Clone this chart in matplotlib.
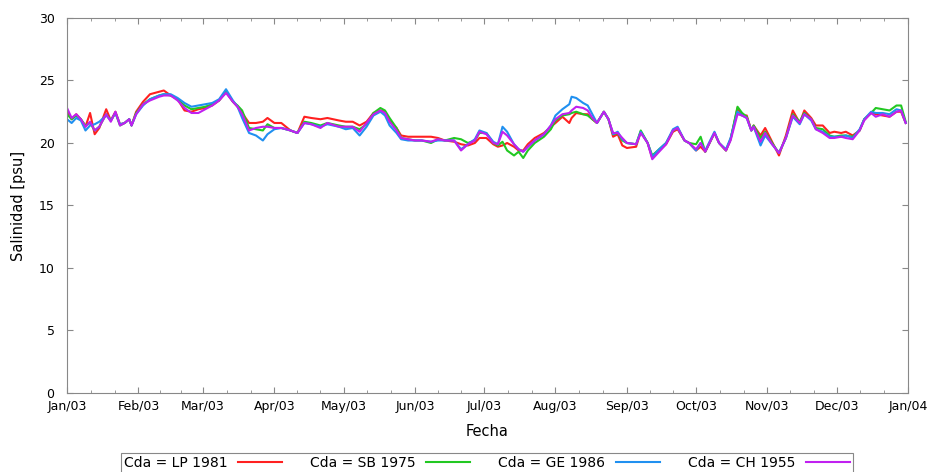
import numpy as np
import pandas as pd
import matplotlib
matplotlib.use("Agg")
import matplotlib.pyplot as plt
import matplotlib.dates as mdates


days = [
    0, 2, 4, 6, 8, 10, 12, 14, 17, 19, 21, 23, 25, 27, 28, 30, 33, 36, 40, 42,
    45, 48, 51, 54, 57, 60, 63, 66, 69, 72, 74, 76, 79, 82, 85, 87, 90, 93, 97, 100,
    103, 106, 110, 113, 118, 121, 124, 127, 130, 133, 136, 138, 140, 143, 145, 148, 151, 154, 158, 161,
    164, 168, 171, 174, 177, 179, 182, 185, 187, 189, 191, 194, 196, 198, 200, 203, 207, 210, 212, 215,
    218, 219, 221, 224, 226, 228, 230, 233, 235, 237, 239, 241, 243, 247, 249, 252, 254, 257, 260, 263,
    265, 268, 270, 273, 275, 277, 281, 283, 286, 288, 291, 293, 295, 297, 298, 301, 303, 306, 309, 312,
    315, 318, 320, 323, 325, 328, 331, 333, 336, 338, 341, 344, 346, 349, 351, 354, 357, 360, 362, 364,
]

sal_lp_1981 = [
    22.6, 21.9, 22.3, 21.9, 21.3, 22.4, 20.7, 21.2, 22.7, 21.8, 22.5, 21.5, 21.6, 21.9, 21.4, 22.5, 23.3, 23.9, 24.1, 24.2,
    23.8, 23.5, 22.6, 22.5, 22.7, 22.8, 23.0, 23.4, 24.1, 23.3, 22.9, 22.4, 21.6, 21.6, 21.7, 22.0, 21.6, 21.6, 21.0, 20.8,
    22.1, 22.0, 21.9, 22.0, 21.8, 21.7, 21.7, 21.4, 21.7, 22.4, 22.6, 22.5, 21.8, 21.2, 20.6, 20.5, 20.5, 20.5, 20.5, 20.4,
    20.2, 20.1, 19.9, 19.8, 20.0, 20.4, 20.4, 19.9, 19.7, 19.8, 20.0, 19.7, 19.4, 19.4, 19.9, 20.4, 20.8, 21.3, 21.6, 22.1,
    21.6, 22.0, 22.4, 22.3, 22.3, 21.9, 21.6, 22.5, 21.9, 20.5, 20.7, 19.8, 19.6, 19.7, 20.9, 20.0, 18.8, 19.4, 19.9, 20.9,
    21.1, 20.2, 20.0, 19.4, 19.7, 19.3, 20.8, 20.0, 19.4, 20.3, 22.8, 22.2, 22.2, 21.0, 21.4, 20.6, 21.2, 20.1, 19.0, 20.6,
    22.6, 21.6, 22.6, 22.0, 21.4, 21.4, 20.8, 20.9, 20.8, 20.9, 20.6, 21.0, 21.9, 22.4, 22.3, 22.2, 22.1, 22.5, 22.5, 21.6,
]

sal_sb_1975 = [
    22.3, 21.9, 22.2, 21.9, 21.4, 21.6, 21.0, 21.3, 22.3, 21.8, 22.4, 21.4, 21.6, 21.9, 21.4, 22.4, 23.1, 23.5, 23.8, 23.9,
    23.8, 23.5, 23.0, 22.7, 22.8, 22.9, 23.1, 23.4, 24.1, 23.3, 23.0, 22.6, 21.2, 21.1, 21.0, 21.5, 21.2, 21.2, 21.0, 20.8,
    21.7, 21.6, 21.4, 21.6, 21.4, 21.3, 21.3, 21.1, 21.5, 22.4, 22.8, 22.6, 22.0, 21.2, 20.4, 20.3, 20.2, 20.2, 20.0, 20.3,
    20.2, 20.4, 20.3, 20.0, 20.2, 20.8, 20.8, 20.0, 19.8, 20.1, 19.4, 19.0, 19.3, 18.8, 19.4, 20.0, 20.5, 21.1, 21.8, 22.2,
    22.3, 22.4, 22.5, 22.3, 22.2, 21.9, 21.6, 22.5, 21.9, 20.7, 20.8, 20.2, 20.0, 19.9, 21.0, 20.0, 19.0, 19.5, 20.0, 21.0,
    21.2, 20.2, 20.0, 19.9, 20.5, 19.3, 20.8, 20.0, 19.4, 20.3, 22.9, 22.4, 22.1, 21.0, 21.4, 20.4, 20.9, 20.0, 19.2, 20.4,
    22.3, 21.7, 22.4, 21.9, 21.2, 21.1, 20.6, 20.5, 20.6, 20.6, 20.5, 21.0, 21.9, 22.4, 22.8, 22.7, 22.6, 23.0, 23.0, 21.7,
]

sal_ge_1986 = [
    21.9, 21.6, 22.0, 21.8, 21.0, 21.4, 21.5, 21.7, 22.2, 21.8, 22.4, 21.5, 21.6, 21.9, 21.4, 22.3, 23.0, 23.5, 23.8, 23.9,
    23.9, 23.6, 23.2, 22.9, 23.0, 23.1, 23.2, 23.5, 24.3, 23.4, 22.9, 22.0, 20.8, 20.6, 20.2, 20.7, 21.1, 21.2, 21.0, 20.8,
    21.6, 21.5, 21.3, 21.5, 21.3, 21.1, 21.2, 20.6, 21.3, 22.2, 22.5, 22.2, 21.4, 20.8, 20.3, 20.2, 20.2, 20.2, 20.1, 20.2,
    20.2, 20.2, 19.5, 19.9, 20.3, 21.0, 20.8, 20.1, 19.9, 21.3, 20.9, 19.9, 19.5, 19.3, 19.7, 20.2, 20.7, 21.4, 22.2, 22.7,
    23.1, 23.7, 23.6, 23.2, 23.0, 22.3, 21.6, 22.5, 21.9, 20.7, 20.9, 20.3, 20.0, 19.9, 20.9, 20.0, 18.9, 19.5, 20.0, 21.1,
    21.3, 20.2, 20.0, 19.4, 20.0, 19.4, 20.9, 20.0, 19.5, 20.4, 22.5, 22.2, 22.0, 21.0, 21.3, 19.8, 20.6, 19.9, 19.2, 20.4,
    22.1, 21.5, 22.3, 21.8, 21.1, 20.9, 20.5, 20.5, 20.5, 20.6, 20.4, 21.1, 21.9, 22.5, 22.4, 22.4, 22.3, 22.7, 22.6, 21.6,
]

sal_ch_1955 = [
    22.8, 22.0, 22.3, 21.9, 21.3, 21.7, 21.0, 21.3, 22.3, 21.7, 22.5, 21.4, 21.6, 21.9, 21.4, 22.3, 23.1, 23.4, 23.7, 23.8,
    23.8, 23.4, 22.8, 22.4, 22.4, 22.7, 23.0, 23.4, 24.0, 23.3, 22.9, 22.3, 21.0, 21.2, 21.3, 21.3, 21.2, 21.2, 21.0, 20.8,
    21.6, 21.5, 21.2, 21.6, 21.3, 21.3, 21.3, 20.9, 21.6, 22.3, 22.6, 22.4, 21.7, 21.0, 20.4, 20.3, 20.2, 20.2, 20.1, 20.3,
    20.2, 20.2, 19.4, 19.9, 20.2, 20.9, 20.7, 20.0, 19.9, 20.9, 20.6, 19.9, 19.5, 19.3, 19.7, 20.2, 20.7, 21.4, 21.9, 22.3,
    22.4, 22.6, 22.9, 22.8, 22.6, 22.0, 21.6, 22.5, 21.9, 20.8, 20.8, 20.4, 20.0, 19.9, 20.8, 20.0, 18.7, 19.3, 19.9, 21.0,
    21.2, 20.2, 20.0, 19.5, 20.0, 19.3, 20.8, 20.0, 19.4, 20.2, 22.3, 22.2, 22.0, 21.0, 21.3, 20.1, 20.8, 19.9, 19.2, 20.4,
    22.2, 21.6, 22.3, 21.9, 21.1, 20.8, 20.4, 20.4, 20.5, 20.4, 20.3, 21.0, 21.8, 22.4, 22.1, 22.3, 22.1, 22.5, 22.6, 21.6,
]

series_labels = ["Cda = LP 1981", "Cda = SB 1975", "Cda = GE 1986", "Cda = CH 1955"]
series_colors = ["#ff2020", "#22c822", "#2090f0", "#c020f0"]


def main():
    plt.rcParams["font.family"] = ["DejaVu Sans"]

    start = pd.Timestamp("2003-01-01")
    dates = start + pd.to_timedelta(days, unit="D")

    fig = plt.figure(figsize=(9.31, 4.72), dpi=100)
    ax = fig.add_axes([0.072, 0.1674, 0.9033, 0.7945])

    all_series = [sal_lp_1981, sal_sb_1975, sal_ge_1986, sal_ch_1955]
    for values, label, color in zip(all_series, series_labels, series_colors):
        ax.plot(dates, values, color=color, linewidth=1.5, label=label)

    ax.set_xlim(start, pd.Timestamp("2004-01-01"))
    ax.set_ylim(0, 30)
    ax.set_yticks(np.arange(0, 31, 5))

    # monthly major ticks, two minor ticks inside each month
    month_starts = pd.date_range("2003-01-01", "2004-01-01", freq="MS")
    minor = []
    for a, b in zip(month_starts[:-1], month_starts[1:]):
        step = (b - a) / 3
        minor += [a + step, a + 2 * step]
    ax.set_xticks(month_starts)
    ax.set_xticks(minor, minor=True)
    ax.xaxis.set_major_formatter(mdates.DateFormatter("%b/%y"))

    ax.tick_params(which="both", direction="in", top=True, right=True,
                   color="#888888", labelsize=9)
    ax.tick_params(axis="x", pad=5)
    ax.tick_params(axis="y", pad=9)
    ax.tick_params(which="major", length=4)
    ax.tick_params(which="minor", length=2.5)
    for spine in ax.spines.values():
        spine.set_color("#888888")
        spine.set_linewidth(0.8)

    ax.set_xlabel("Fecha", fontsize=10.5, labelpad=8)
    ax.set_ylabel("Salinidad [psu]", fontsize=10.5, labelpad=9)

    leg = fig.legend(loc="center", bbox_to_anchor=(0.523, 0.019), ncol=4,
                     markerfirst=False, fontsize=10, handlelength=3.2,
                     handletextpad=0.75, columnspacing=2.0, borderpad=0.2,
                     fancybox=False, framealpha=1)
    leg.get_frame().set_edgecolor("#888888")
    leg.get_frame().set_linewidth(0.8)

    fig.savefig("out.png", dpi=100)


if __name__ == "__main__":
    main()
